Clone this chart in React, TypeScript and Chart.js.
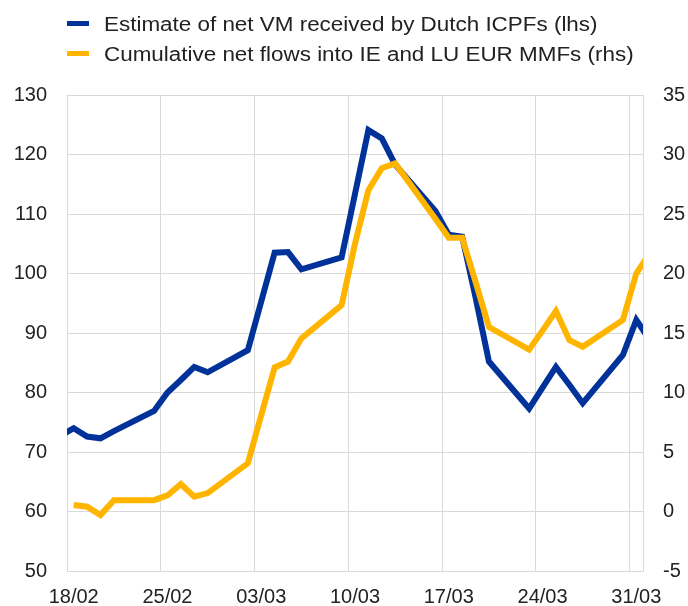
import React, { useEffect, useRef } from 'react';
import { Chart, registerables } from 'chart.js';

Chart.register(...registerables);

// Calendar days (17/02 and 01/04 lie just outside the visible range)
const calendarDays = [
  '17/02', '18/02', '19/02', '20/02', '21/02', '22/02', '23/02', '24/02', '25/02', '26/02',
  '27/02', '28/02', '29/02', '01/03', '02/03', '03/03', '04/03', '05/03', '06/03', '07/03',
  '08/03', '09/03', '10/03', '11/03', '12/03', '13/03', '14/03', '15/03', '16/03', '17/03',
  '18/03', '19/03', '20/03', '21/03', '22/03', '23/03', '24/03', '25/03', '26/03', '27/03',
  '28/03', '29/03', '30/03', '31/03', '01/04',
];

// Visible date range and labelled ticks on the x axis
const firstDay = '18/02';
const lastDay = '31/03';
const xTickLabels = ['18/02', '25/02', '03/03', '10/03', '17/03', '24/03', '31/03'];

// Estimate of net VM received by Dutch ICPFs (lhs)
const vmDates = [
  '17/02', '18/02', '19/02', '20/02', '21/02', '24/02', '25/02', '26/02', '27/02', '28/02',
  '02/03', '03/03', '04/03', '05/03', '06/03', '09/03', '10/03', '11/03', '12/03', '13/03',
  '16/03', '17/03', '18/03', '19/03', '20/03', '23/03', '24/03', '25/03', '26/03', '27/03',
  '30/03', '31/03', '01/04',
];
const vmValues = [
  72.7, 74.0, 72.6, 72.3, 73.5, 76.9, 80.0, 82.1, 84.3, 83.4,
  87.1, 95.3, 103.5, 103.6, 100.7, 102.7, 113.4, 124.1, 122.7, 118.3,
  110.5, 106.5, 106.2, 96.0, 85.2, 77.3, 80.8, 84.3, 81.3, 78.2,
  86.3, 92.2, 88.8,
];

// Cumulative net flows into IE and LU EUR MMFs (rhs)
const mmfDates = [
  '18/02', '19/02', '20/02', '21/02', '24/02', '25/02', '26/02', '27/02', '28/02',
  '02/03', '03/03', '04/03', '05/03', '06/03', '09/03', '10/03', '11/03', '12/03', '13/03',
  '16/03', '17/03', '18/03', '19/03', '20/03', '23/03', '24/03', '25/03', '26/03', '27/03',
  '30/03', '31/03', '01/04',
];
const mmfValues = [
  0.55, 0.4, -0.3, 0.95, 0.95, 1.35, 2.3, 1.25, 1.55,
  4.05, 8.1, 12.1, 12.6, 14.55, 17.35, 22.5, 27.0, 28.85, 29.25,
  24.6, 23.0, 23.0, 19.3, 15.5, 13.6, 15.2, 16.85, 14.4, 13.85,
  16.1, 20.0, 21.7,
];

const seriesLabels = [
  'Estimate of net VM received by Dutch ICPFs (lhs)',
  'Cumulative net flows into IE and LU EUR MMFs (rhs)',
];

const leftAxis = { min: 50, max: 130, step: 10 };
const rightAxis = { min: -5, max: 35, step: 5 };

const BLUE = '#003299';
const YELLOW = '#FFB400';
const GRID = '#d9d9d9';
const TEXT = '#222222';
const FONT_FAMILY = '"Liberation Sans", Arial, sans-serif';

// day number relative to the first visible day (18/02 -> 0)
const dayNo = (d: string) => calendarDays.indexOf(d) - calendarDays.indexOf(firstDay);
const xMin = dayNo(firstDay) - 0.5;
const xMax = dayNo(lastDay) + 0.5;

const legendPlugin = {
  id: 'customLegend',
  afterDraw(chart: any) {
    const ctx = chart.ctx;
    const rows = [31, 61];
    chart.data.datasets.forEach((ds: any, i: number) => {
      const base = rows[i];
      ctx.save();
      ctx.fillStyle = ds.borderColor;
      ctx.fillRect(67, base - 10, 22, 5);
      ctx.fillStyle = TEXT;
      ctx.font = `19.5px ${FONT_FAMILY}`;
      ctx.textBaseline = 'alphabetic';
      ctx.textAlign = 'left';
      ctx.translate(104, base);
      ctx.scale(1.15, 1);
      ctx.fillText(ds.label, 0, 0);
      ctx.restore();
    });
  },
};

export default function App() {
  const canvasRef = useRef<HTMLCanvasElement | null>(null);

  useEffect(() => {
    if (!canvasRef.current) return;
    const chart = new Chart(canvasRef.current, {
      type: 'line',
      data: {
        datasets: [
          {
            label: seriesLabels[0],
            data: vmDates.map((d, i) => ({ x: dayNo(d), y: vmValues[i] })),
            borderColor: BLUE,
            backgroundColor: BLUE,
            borderWidth: 6,
            pointRadius: 0,
            tension: 0,
            yAxisID: 'y',
            order: 1,
          },
          {
            label: seriesLabels[1],
            data: mmfDates.map((d, i) => ({ x: dayNo(d), y: mmfValues[i] })),
            borderColor: YELLOW,
            backgroundColor: YELLOW,
            borderWidth: 6,
            pointRadius: 0,
            tension: 0,
            yAxisID: 'y1',
            order: 0,
          },
        ],
      },
      options: {
        animation: false,
        responsive: true,
        maintainAspectRatio: false,
        layout: { padding: { top: 95, left: 0, right: 0, bottom: 0 } },
        plugins: {
          legend: { display: false },
          tooltip: { enabled: false },
        },
        scales: {
          x: {
            type: 'linear',
            position: 'bottom',
            min: xMin,
            max: xMax,
            grid: { display: false, drawTicks: false },
            border: { display: true, color: GRID },
            afterBuildTicks: (scale: any) => {
              scale.ticks = xTickLabels.map((l) => ({ value: dayNo(l) }));
            },
            ticks: {
              autoSkip: false,
              maxRotation: 0,
              padding: 14,
              color: TEXT,
              font: { family: FONT_FAMILY, size: 20 },
              callback: (value: any) => calendarDays[Math.round(value) + calendarDays.indexOf(firstDay)],
            },
            afterFit: (scale: any) => {
              scale.height = 35;
            },
          },
          xGrid: {
            type: 'linear',
            position: 'bottom',
            min: xMin,
            max: xMax,
            grid: { color: GRID, drawTicks: false },
            border: { display: false },
            afterBuildTicks: (scale: any) => {
              scale.ticks = xTickLabels.map((l) => ({ value: dayNo(l) - 0.5 }));
            },
            ticks: { display: false },
            afterFit: (scale: any) => {
              scale.height = 0;
            },
          },
          y: {
            position: 'left',
            min: leftAxis.min,
            max: leftAxis.max,
            grid: { color: GRID, drawTicks: false },
            border: { display: true, color: GRID },
            ticks: {
              stepSize: leftAxis.step,
              padding: 20,
              color: TEXT,
              font: { family: FONT_FAMILY, size: 20 },
            },
            afterFit: (scale: any) => {
              scale.width = 67;
            },
          },
          y1: {
            position: 'right',
            min: rightAxis.min,
            max: rightAxis.max,
            grid: { display: false, drawTicks: false },
            border: { display: true, color: GRID },
            ticks: {
              stepSize: rightAxis.step,
              padding: 20,
              color: TEXT,
              font: { family: FONT_FAMILY, size: 20 },
            },
            afterFit: (scale: any) => {
              scale.width = 45;
            },
          },
        },
      },
      plugins: [legendPlugin],
    });
    return () => chart.destroy();
  }, []);

  return (
    <div style={{ position: 'absolute', left: 0, top: 0, width: 688, height: 606, background: '#ffffff' }}>
      <canvas ref={canvasRef} />
    </div>
  );
}
